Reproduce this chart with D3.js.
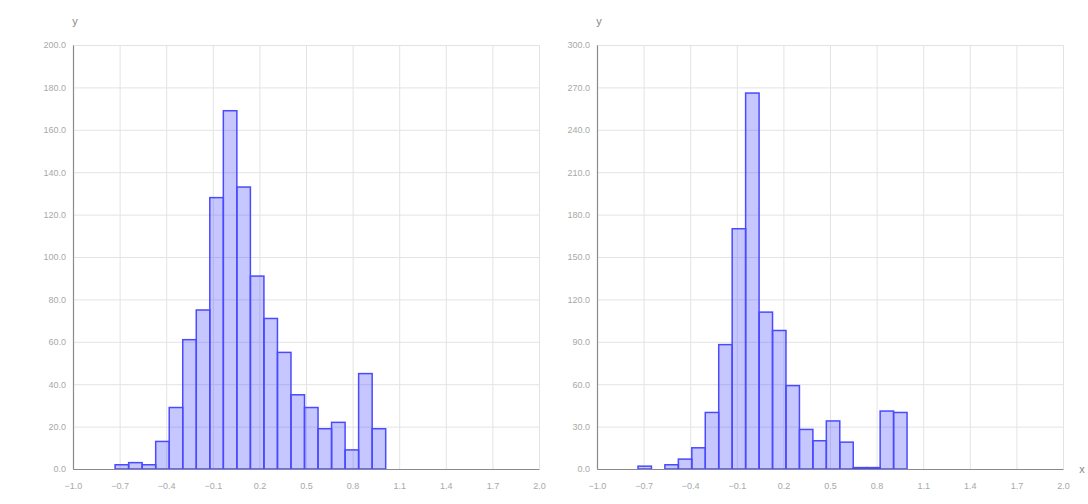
<!DOCTYPE html>
<html>
<head>
<meta charset="utf-8">
<script src="https://cdn.jsdelivr.net/npm/d3@7"></script>
<style>
  html,body{margin:0;padding:0;background:#fff;}
  svg{display:block;font-family:"Liberation Sans",Arial,sans-serif;}
  .grid line{stroke:#e3e3e3;stroke-width:1;}
  .grid .domain{display:none;}
  .axis text{fill:#a8a8a8;font-size:9px;}
  .axis .domain{stroke:#8a8a8a;stroke-width:1.2;}
  .axis .tick line{display:none;}
</style>
</head>
<body>
<div id="chart"></div>
<script>
// x ticks shared by both panels
const xTicks=[-1.0,-0.7,-0.4,-0.1,0.2,0.5,0.8,1.1,1.4,1.7,2.0];
// left panel
const leftTicksY=[0,20,40,60,80,100,120,140,160,180,200];
const leftBinStart=-0.729, leftBinWidth=0.0871;
const leftCounts=[2,3,2,13,29,61,75,128,169,133,91,71,55,35,29,19,22,9,45,19];
// right panel
const rightTicksY=[0,30,60,90,120,150,180,210,240,270,300];
const rightBinStart=-0.736, rightBinWidth=0.0866;
const rightCounts=[2,0,3,7,15,40,88,170,266,111,98,59,28,20,34,19,1,1,41,40];

const W=1088,H=504;
const svg=d3.select('#chart').append('svg').attr('width',W).attr('height',H);

function drawHist(ox,ticksY,binStart,binWidth,counts,showX){
  const m={t:45,l:ox,w:466,h:424};
  const g=svg.append('g').attr('transform',`translate(${m.l},${m.t})`);
  const x=d3.scaleLinear().domain([xTicks[0],xTicks[xTicks.length-1]]).range([0,m.w]);
  const y=d3.scaleLinear().domain([ticksY[0],ticksY[ticksY.length-1]]).range([m.h,0]);
  // grids
  g.append('g').attr('class','grid').call(d3.axisLeft(y).tickValues(ticksY).tickSize(-m.w).tickFormat(''));
  g.append('g').attr('class','grid').attr('transform',`translate(0,${m.h})`).call(d3.axisBottom(x).tickValues(xTicks).tickSize(-m.h).tickFormat(''));
  // bars
  const bins=counts.map((c,i)=>({x0:binStart+i*binWidth,x1:binStart+(i+1)*binWidth,c}));
  g.selectAll('.bar').data(bins.filter(d=>d.c>0)).join('rect').attr('class','bar')
    .attr('x',d=>x(d.x0)).attr('width',d=>x(d.x1)-x(d.x0))
    .attr('y',d=>y(d.c)).attr('height',d=>y(0)-y(d.c))
    .attr('fill','rgba(70,70,255,0.3)').attr('stroke','#4a4aff').attr('stroke-width',1.5);
  // axes
  g.append('g').attr('class','axis').attr('transform',`translate(0,${m.h})`)
    .call(d3.axisBottom(x).tickValues(xTicks).tickSize(0).tickPadding(14).tickFormat(d3.format('.1f')));
  g.append('g').attr('class','axis')
    .call(d3.axisLeft(y).tickValues(ticksY).tickSize(0).tickPadding(7).tickFormat(d3.format('.1f')));
  // axis names
  g.append('text').attr('x',2).attr('y',-20).attr('text-anchor','middle').attr('font-size',11).attr('fill','#888').text('y');
  if(showX) g.append('text').attr('x',m.w+19).attr('y',m.h+4).attr('text-anchor','middle').attr('font-size',11).attr('fill','#888').text('x');
}

drawHist(73,leftTicksY,leftBinStart,leftBinWidth,leftCounts,false);
drawHist(597,rightTicksY,rightBinStart,rightBinWidth,rightCounts,true);
</script>
</body>
</html>
